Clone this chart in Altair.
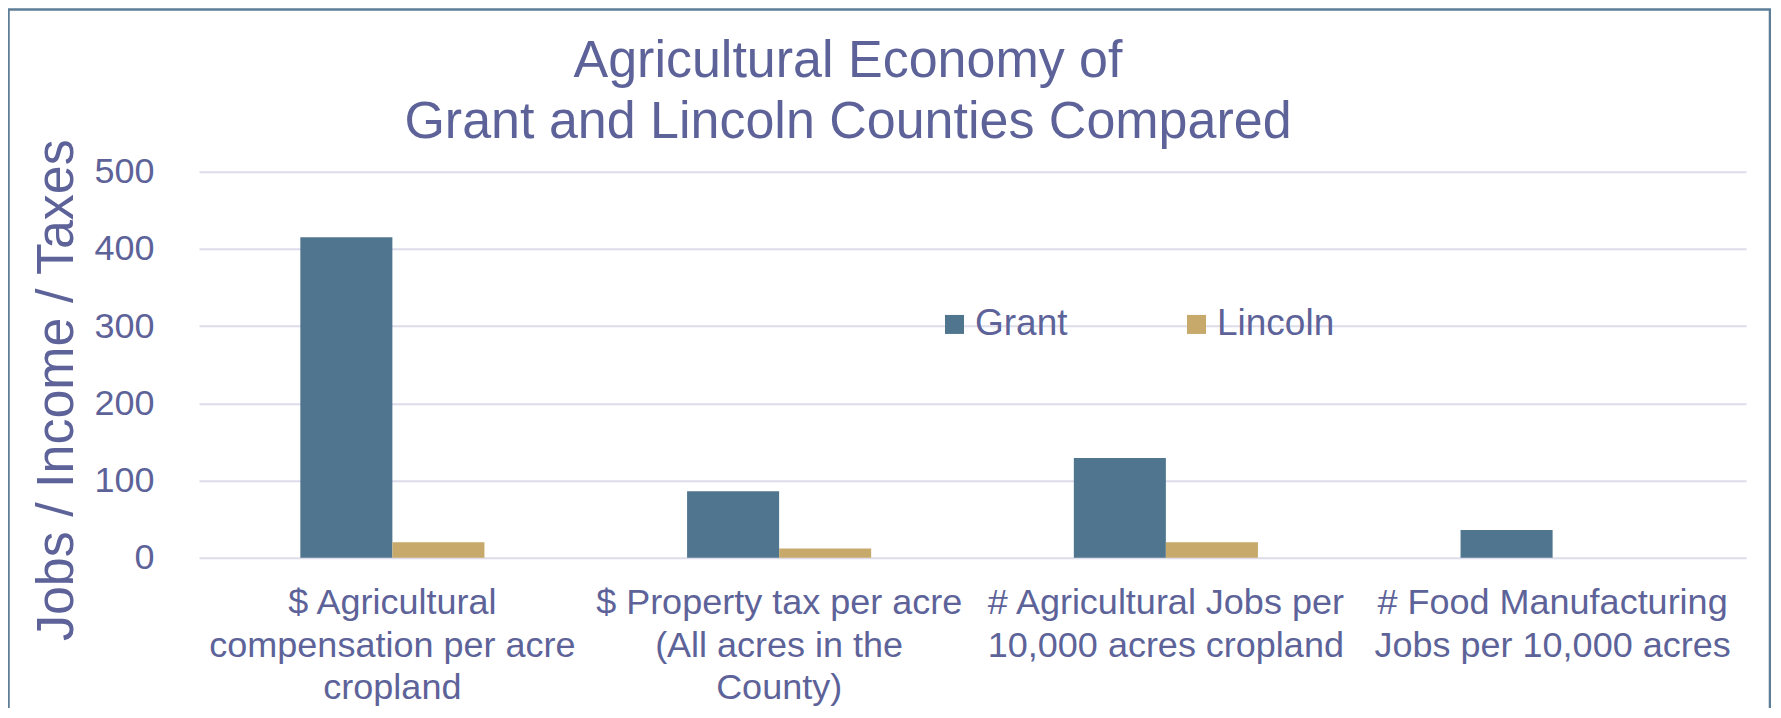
import altair as alt
import pandas as pd

# ---- data ----
categories = [
    "$ Agricultural|compensation per acre|cropland",
    "$ Property tax per acre|(All acres in the|County)",
    "# Agricultural Jobs per|10,000 acres cropland",
    "# Food Manufacturing|Jobs per 10,000 acres",
]
series = ["Grant", "Lincoln"]
grant = [415, 86, 129, 36]
lincoln = [20, 12, 20, 0]
y_ticks = [0, 100, 200, 300, 400, 500]
title_lines = ["Agricultural Economy of", "Grant and Lincoln Counties Compared"]
y_title = "Jobs / Income / Taxes"

rows = []
for c, g, l in zip(categories, grant, lincoln):
    rows.append({"category": c, "county": "Grant", "value": g})
    rows.append({"category": c, "county": "Lincoln", "value": l})
df = pd.DataFrame(rows)

# ---- style ----
FONT = "Liberation Sans"
TXT = "#5D6399"
GRID = "#DCDCEA"
BORDER = "#5E7E98"
COLORS = ["#50758E", "#C6A96B"]

one = pd.DataFrame({"k": [0]})

bars = alt.Chart(df).mark_bar().encode(
    x=alt.X(
        "category:N",
        sort=categories,
        scale=alt.Scale(paddingInner=0.524, paddingOuter=0.262),
        axis=alt.Axis(
            title=None,
            labelExpr="split(datum.label, '|')",
            labelAngle=0,
            labelFont=FONT,
            labelFontSize=36,
            labelColor=TXT,
            labelBaseline="alphabetic",
            labelPadding=56,
            labelLineHeight=42.5,
            labelLimit=0,
            labelOverlap=False,
            ticks=False,
            domain=False,
            grid=False,
        ),
    ),
    xOffset=alt.XOffset("county:N", sort=series,
                        scale=alt.Scale(paddingInner=0, paddingOuter=0)),
    y=alt.Y(
        "value:Q",
        scale=alt.Scale(domain=[0, 500], nice=False),
        axis=alt.Axis(
            values=y_ticks,
            title=y_title,
            titleFont=FONT,
            titleFontSize=52,
            titleFontWeight="normal",
            titleColor=TXT,
            titleAngle=270,
            titleX=-127,
            titleY=218,
            titleAlign="center",
            titleBaseline="alphabetic",
            labelFont=FONT,
            labelFontSize=36,
            labelColor=TXT,
            labelPadding=45,
            ticks=False,
            domain=False,
            grid=True,
            gridColor=GRID,
            gridWidth=2,
        ),
    ),
    color=alt.Color(
        "county:N",
        sort=series,
        scale=alt.Scale(domain=series, range=COLORS),
        legend=alt.Legend(
            title=None,
            orient="none",
            legendX=737,
            legendY=134,
            direction="horizontal",
            columns=2,
            columnPadding=110,
            symbolType="square",
            symbolSize=361,
            symbolStrokeWidth=0,
            labelFont=FONT,
            labelFontSize=37,
            labelColor=TXT,
            labelOffset=2,
            padding=0,
        ),
    ),
)

title_text = alt.Chart(one).mark_text(
    font=FONT, fontSize=52, color=TXT, align="center",
    baseline="alphabetic", lineHeight=61,
).encode(
    x=alt.value(649), y=alt.value(-95), text=alt.value(title_lines)
)

border = alt.Chart(one).mark_rect(
    filled=False, stroke=BORDER, strokeWidth=2.5
).encode(
    x=alt.value(-190.5), x2=alt.value(1571),
    y=alt.value(-162.2), y2=alt.value(560),
)

chart = alt.layer(border, bars, title_text).properties(
    width=1547,
    height=386,
    autosize=alt.AutoSizeParams(type="none"),
    padding={"left": 191, "top": 163.7, "right": 25, "bottom": 150},
).configure(background="white").configure_view(strokeWidth=0)

chart.save("out.html", embed_options={"renderer": "svg", "actions": False})
